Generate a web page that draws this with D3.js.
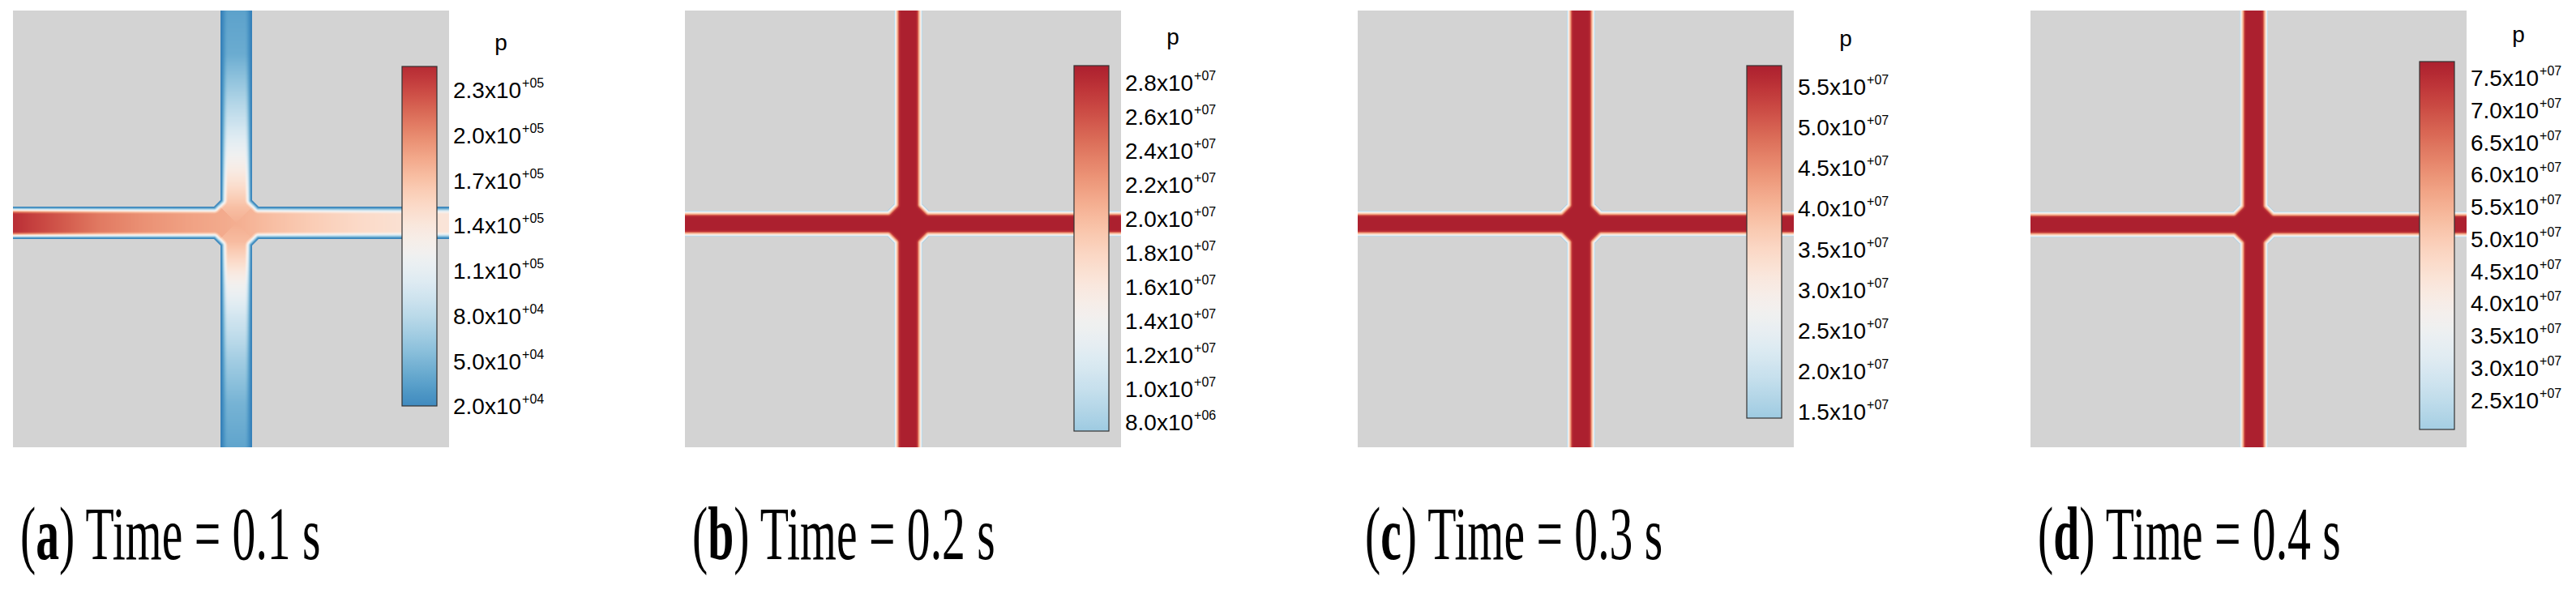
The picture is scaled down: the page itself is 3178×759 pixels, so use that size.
<!DOCTYPE html>
<html>
<head>
<meta charset="utf-8">
<script src="https://cdn.jsdelivr.net/npm/d3@7"></script>
<style>
  body { margin: 0; background: #fff; }
  svg { display: block; }
</style>
</head>
<body>
<div id="chart"></div>
<script>
// ---- data ----
const letters = ["a", "b", "c", "d"];
const times = ["0.1", "0.2", "0.3", "0.4"];

// value at the bottom / top end of each colour bar
const barMin = [2.05e4, 7.52e6, 1.43e7, 2.05e7];
const barMax = [2.46e5, 2.905e7, 5.76e7, 7.76e7];

// colour bar ticks
const ticksA = [2.0e4, 5.0e4, 8.0e4, 1.1e5, 1.4e5, 1.7e5, 2.0e5, 2.3e5];
const ticksB = [8.0e6, 1.0e7, 1.2e7, 1.4e7, 1.6e7, 1.8e7, 2.0e7, 2.2e7, 2.4e7, 2.6e7, 2.8e7];
const ticksC = [1.5e7, 2.0e7, 2.5e7, 3.0e7, 3.5e7, 4.0e7, 4.5e7, 5.0e7, 5.5e7];
const ticksD = [2.5e7, 3.0e7, 3.5e7, 4.0e7, 4.5e7, 5.0e7, 5.5e7, 6.0e7, 6.5e7, 7.0e7, 7.5e7];

// part of the RdBu map each bar uses (0 = dark red, 1 = dark blue)
const rdbuBottom = [0.82, 0.68, 0.68, 0.67];
const rdbuTop = [0.12, 0.1, 0.1, 0.1];

// pressure at the channel walls
const wallP = [1.3e4, 7.5e6, 1.43e7, 2.05e7];

// pressure on the centre line of the horizontal channel (position: 0 = left end, 1 = right end)
const hPosA = [0, 0.04, 0.12, 0.2, 0.3, 0.4, 0.512, 0.6, 0.7, 0.8, 0.9, 1];
const hCoreA = [2.44e5, 2.36e5, 2.22e5, 2.08e5, 1.97e5, 1.89e5, 1.82e5, 1.72e5, 1.62e5, 1.53e5, 1.47e5, 1.43e5];
// pressure on the centre line of the vertical channel (position: 0 = top end, 1 = bottom end)
const vPosA = [0, 0.1, 0.18, 0.26, 0.33, 0.4, 0.45, 0.488, 0.53, 0.58, 0.63, 0.7, 0.8, 0.9, 1];
const vCoreA = [3.6e4, 4.3e4, 6.6e4, 9.2e4, 1.2e5, 1.5e5, 1.72e5, 1.82e5, 1.74e5, 1.5e5, 1.22e5, 9.5e4, 6.8e4, 4.8e4, 3.8e4];

// later times: channels are saturated at the top of the bar
const flatPos = [0, 1];
const hCoreB = [2.9e7, 2.9e7], vCoreB = [2.9e7, 2.9e7];
const hCoreC = [5.75e7, 5.75e7], vCoreC = [5.75e7, 5.75e7];
const hCoreD = [7.75e7, 7.75e7], vCoreD = [7.75e7, 7.75e7];

// wall -> centre profile across a channel (distance from wall in px, weight of centre value)
const profDistA = [0, 1.5, 3, 5, 7, 9];
const profWA = [0, 0.08, 0.3, 0.62, 0.88, 1];
const profDistB = [0, 2, 4, 6.5, 8.5];
const profWB = [0, 0.35, 0.6, 0.95, 1];

const tickSets = [ticksA, ticksB, ticksC, ticksD];
const hPos = [hPosA, flatPos, flatPos, flatPos];
const hCores = [hCoreA, hCoreB, hCoreC, hCoreD];
const vPos = [vPosA, flatPos, flatPos, flatPos];
const vCores = [vCoreA, vCoreB, vCoreC, vCoreD];
const profDist = [profDistA, profDistB, profDistB, profDistB];
const profW = [profWA, profWB, profWB, profWB];

// ---- layout ----
const width = 3178, height = 759;
const panelLeft = [16, 845, 1675, 2505];
const plotTop = 13, plotW = 538, plotH = 539;
const chanX = 275.5;                       // vertical channel centre inside a plot
const chanY = [262, 263, 263, 264];        // horizontal channel centre inside a plot
const halfV = [19.5, 17.5, 17.5, 17.5];    // half width of vertical channel
const halfH = [20, 16, 16, 16];            // half width of horizontal channel
const chamfer = 8;
const barX0 = 480, barX1 = 523;            // colour bar, relative to plot left
const barTop = [82, 81, 81, 76];
const barBot = [501, 532, 516, 530];
const pY = [62, 55, 57, 52];
const bgGray = "#d3d3d3";
const sans = "'Liberation Sans', Arial, sans-serif";

const lut = d3.range(1001).map(k => d3.rgb(d3.interpolateRdBu(k / 1000)));
const colorAt = t => lut[Math.round(Math.max(0, Math.min(1, t)) * 1000)];

const svg = d3.select("#chart")
  .append("svg")
  .attr("width", width)
  .attr("height", height);
const defs = svg.append("defs");

// distance from a point (a, b) (abs offsets from the junction) to the nearest wall
function wallDist(a, b, hwV, hwH) {
  const s = hwV + hwH + chamfer;
  if (a >= hwV && b >= hwH && a + b >= s) {
    // inside a solid block: negative depth
    return -Math.min(a - hwV, b - hwH, (a + b - s) / Math.SQRT2);
  }
  const d1 = a >= hwV + chamfer ? Math.abs(hwH - b) : Math.hypot(a - hwV - chamfer, b - hwH);
  const d2 = b >= hwH + chamfer ? Math.abs(hwV - a) : Math.hypot(a - hwV, b - hwH - chamfer);
  // chamfer segment
  const x1 = hwV + chamfer, y1 = hwH, dx = -chamfer, dy = chamfer;
  let u = ((a - x1) * dx + (b - y1) * dy) / (dx * dx + dy * dy);
  u = Math.max(0, Math.min(1, u));
  const d3s = Math.hypot(a - (x1 + u * dx), b - (y1 + u * dy));
  return Math.min(d1, d2, d3s);
}

function drawField(i) {
  const tScale = d3.scaleLinear().domain([barMin[i], barMax[i]]).range([rdbuBottom[i], rdbuTop[i]]);
  const hCore = d3.scaleLinear().domain(hPos[i].map(f => f * plotW)).range(hCores[i]).clamp(true);
  const vCore = d3.scaleLinear().domain(vPos[i].map(f => f * plotH)).range(vCores[i]).clamp(true);
  const prof = d3.scaleLinear().domain(profDist[i]).range(profW[i]).clamp(true);
  const gray = d3.rgb(bgGray);

  const canvas = document.createElement("canvas");
  canvas.width = plotW;
  canvas.height = plotH;
  const ctx = canvas.getContext("2d");
  const img = ctx.createImageData(plotW, plotH);

  for (let py = 0; py < plotH; py++) {
    for (let px = 0; px < plotW; px++) {
      const x = px + 0.5, y = py + 0.5;
      const a = Math.abs(x - chanX), b = Math.abs(y - chanY[i]);
      const d = wallDist(a, b, halfV[i], halfH[i]);
      const cover = Math.max(0, Math.min(1, d + 0.5));
      let r = gray.r, g = gray.g, bl = gray.b;
      if (cover > 0) {
        const core = b <= a ? hCore(x) : vCore(y);
        const v = wallP[i] + (core - wallP[i]) * prof(Math.max(0, d));
        const c = colorAt(tScale(v));
        r = r + (c.r - r) * cover;
        g = g + (c.g - g) * cover;
        bl = bl + (c.b - bl) * cover;
      }
      const k = (py * plotW + px) * 4;
      img.data[k] = r;
      img.data[k + 1] = g;
      img.data[k + 2] = bl;
      img.data[k + 3] = 255;
    }
  }
  ctx.putImageData(img, 0, 0);

  svg.append("image")
    .attr("x", panelLeft[i])
    .attr("y", plotTop)
    .attr("width", plotW)
    .attr("height", plotH)
    .attr("href", canvas.toDataURL());
}

function mantissa(v) {
  const e = Math.floor(Math.log10(v) + 1e-9);
  return (v / Math.pow(10, e)).toFixed(1) + "x10";
}
function exponent(v) {
  const e = Math.floor(Math.log10(v) + 1e-9);
  return "+" + String(e).padStart(2, "0");
}

function drawBar(i) {
  const L = panelLeft[i];
  const tScale = d3.scaleLinear().domain([barMin[i], barMax[i]]).range([rdbuBottom[i], rdbuTop[i]]);
  const yBar = d3.scaleLinear().domain([barMin[i], barMax[i]]).range([barBot[i], barTop[i]]);

  const grad = defs.append("linearGradient")
    .attr("id", "bar" + i)
    .attr("x1", 0).attr("y1", 1).attr("x2", 0).attr("y2", 0);
  d3.range(0, 61).forEach(k => {
    const v = barMin[i] + (barMax[i] - barMin[i]) * k / 60;
    grad.append("stop")
      .attr("offset", k / 60)
      .attr("stop-color", colorAt(tScale(v)).formatHex());
  });

  svg.append("rect")
    .attr("x", L + barX0)
    .attr("y", yBar(barMax[i]))
    .attr("width", barX1 - barX0)
    .attr("height", yBar(barMin[i]) - yBar(barMax[i]))
    .attr("fill", `url(#bar${i})`)
    .attr("stroke", "#333")
    .attr("stroke-width", 1.2);

  const axis = svg.append("g")
    .attr("transform", `translate(${L + barX1},0)`)
    .call(d3.axisRight(yBar).tickValues(tickSets[i]).tickSize(0).tickPadding(20));
  axis.select(".domain").remove();
  axis.selectAll(".tick text")
    .attr("font-family", sans)
    .attr("font-size", 28)
    .attr("fill", "#000")
    .text(null)
    .each(function (v) {
      const t = d3.select(this);
      t.append("tspan").text(mantissa(v));
      t.append("tspan").attr("dx", 1).attr("dy", -13).attr("font-size", 16).text(exponent(v));
    });

  svg.append("text")
    .attr("x", L + 602)
    .attr("y", pY[i])
    .attr("text-anchor", "middle")
    .attr("font-family", sans)
    .attr("font-size", 28)
    .text("p");
}

function drawCaption(i) {
  const cap = svg.append("text")
    .attr("transform", `translate(${panelLeft[i] + 9},690) scale(0.62,1)`)
    .attr("font-family", "'Liberation Serif', 'Times New Roman', serif")
    .attr("font-size", 93)
    .attr("fill", "#000");
  cap.append("tspan").text("(");
  cap.append("tspan").attr("font-weight", "bold").text(letters[i]);
  cap.append("tspan").text(") Time = " + times[i] + " s");
}

[0, 1, 2, 3].forEach(i => {
  drawField(i);
  drawBar(i);
  drawCaption(i);
});
</script>
</body>
</html>
